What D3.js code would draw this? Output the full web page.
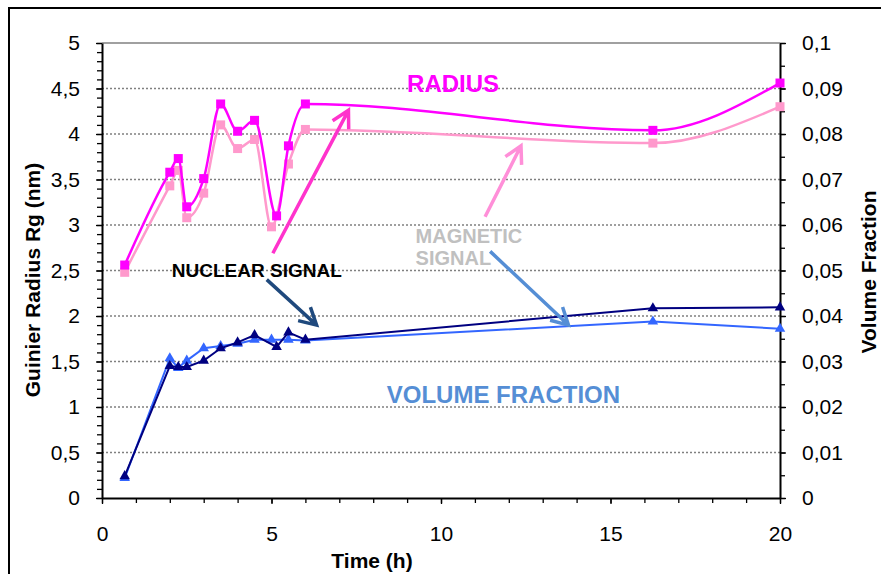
<!DOCTYPE html>
<html><head><meta charset="utf-8">
<script src="https://cdn.jsdelivr.net/npm/d3@7"></script>
<style>body{margin:0;background:#fff} svg{display:block} text{font-family:"Liberation Sans",Arial,sans-serif}</style>
</head><body><svg id="c" width="881" height="574"></svg>
<script>
// ---- data ----
const nucTime   = [0.67, 2, 2.25, 2.5, 3, 3.5, 4, 4.5, 5.15, 5.5, 6, 16.25, 20];
const magTime   = [0.67, 2, 2.25, 2.5, 3, 3.5, 4, 4.5, 5, 5.5, 6, 16.25, 20];
const nucRadius = [2.56, 3.58, 3.73, 3.20, 3.51, 4.33, 4.03, 4.15, 3.10, 3.87, 4.33, 4.04, 4.56];
const magRadius = [2.48, 3.43, 3.60, 3.08, 3.35, 4.10, 3.84, 3.94, 2.98, 3.67, 4.05, 3.90, 4.30];
const nucVF     = [0.0048, 0.0290, 0.0288, 0.0288, 0.0302, 0.0329, 0.0342, 0.0358, 0.0332, 0.0364, 0.0348, 0.0417, 0.0419];
const magVF     = [0.0044, 0.0307, 0.0286, 0.0302, 0.0329, 0.0334, 0.0339, 0.0348, 0.0348, 0.0348, 0.0346, 0.0388, 0.0372];
const xTicks    = [0, 5, 10, 15, 20];
const leftTicks = [0, 0.5, 1, 1.5, 2, 2.5, 3, 3.5, 4, 4.5, 5];
const rightTicks= [0, 0.01, 0.02, 0.03, 0.04, 0.05, 0.06, 0.07, 0.08, 0.09, 0.1];
const xTitle = "Time (h)", yLeftTitle = "Guinier Radius Rg (nm)", yRightTitle = "Volume Fraction";
// annotations [x, y] in data units (left axis scale)
const labels = [
  {text: "RADIUS", x: 9.0, y: 4.46, color: "#FF00FF", size: 24},
  {text: "NUCLEAR SIGNAL", x: 2.06, y: 2.425, color: "#000000", size: 19},
  {text: "MAGNETIC", x: 9.25, y: 2.80, color: "#C0C0C0", size: 20},
  {text: "SIGNAL", x: 9.25, y: 2.56, color: "#C0C0C0", size: 20},
  {text: "VOLUME FRACTION", x: 8.4, y: 1.047, color: "#558ED5", size: 24}
];
const arrows = [
  {x1: 5.04, y1: 2.69, x2: 7.27, y2: 4.26, color: "#FF33CC"},
  {x1: 11.3, y1: 3.09, x2: 12.36, y2: 3.87, color: "#FF8FD8"},
  {x1: 4.86, y1: 2.40, x2: 6.33, y2: 1.90, color: "#1F497D"},
  {x1: 11.45, y1: 2.71, x2: 13.76, y2: 1.90, color: "#558ED5"}
];

// ---- layout ----
const svg = d3.select("#c");
const L = 102, R = 780, T = 43, B = 498;
const x = d3.scaleLinear().domain([0, 20]).range([L, R]);
const yL = d3.scaleLinear().domain([0, 5]).range([B, T]);
const yR = d3.scaleLinear().domain([0, 0.1]).range([B, T]);
const fmt = d => String(+d.toFixed(3)).replace(".", ",");

svg.append("rect").attr("x", 9).attr("y", 8).attr("width", 900).attr("height", 600)
  .attr("fill", "#fff").attr("stroke", "#000").attr("stroke-width", 2);

// gridlines
svg.append("g").selectAll("line").data(leftTicks.filter(d => d > 0 && d < 5)).join("line")
  .attr("x1", L).attr("x2", R).attr("y1", d => yL(d)).attr("y2", d => yL(d))
  .attr("stroke", "#808080").attr("stroke-width", 1.3).attr("stroke-dasharray", "2,2");
svg.append("line").attr("x1", L).attr("x2", R).attr("y1", yL(5)).attr("y2", yL(5))
  .attr("stroke", "#A0A0A0").attr("stroke-width", 2);

// axes
function styleAxis(g) {
  g.select(".domain").attr("stroke", "#000").attr("stroke-width", 2);
  g.selectAll(".tick line").attr("stroke", "#000").attr("stroke-width", 1.3);
  g.selectAll(".tick text").attr("font-size", 21).attr("fill", "#000").attr("font-family", '"Liberation Sans",Arial,sans-serif');
}
// minor ticks
svg.append("g").attr("transform", `translate(${L},0)`)
  .call(d3.axisLeft(yL).tickValues(d3.range(0, 5.001, 0.1)).tickSize(5).tickFormat(""))
  .call(g => g.select(".domain").remove()).call(styleAxis);
svg.append("g").attr("transform", `translate(${R},0)`)
  .call(d3.axisRight(yR).tickValues(d3.range(0, 0.1001, 0.005)).tickSize(5).tickFormat(""))
  .call(g => g.select(".domain").remove()).call(styleAxis);
svg.append("g").attr("transform", `translate(0,${B})`)
  .call(d3.axisBottom(x).tickValues(d3.range(0, 20.01, 1)).tickSize(5).tickFormat(""))
  .call(g => g.select(".domain").remove()).call(styleAxis);

svg.append("g").attr("transform", `translate(${L},0)`)
  .call(d3.axisLeft(yL).tickValues(leftTicks).tickSize(6).tickSizeOuter(0).tickPadding(16).tickFormat(fmt)).call(styleAxis);
svg.append("g").attr("transform", `translate(${R},0)`)
  .call(d3.axisRight(yR).tickValues(rightTicks).tickSize(6).tickSizeOuter(0).tickPadding(16).tickFormat(fmt)).call(styleAxis);
svg.append("g").attr("transform", `translate(0,${B})`)
  .call(d3.axisBottom(x).tickValues(xTicks).tickSize(6).tickSizeOuter(0).tickPadding(22).tickFormat(fmt)).call(styleAxis);

// titles
svg.append("text").attr("x", 372).attr("y", 568).attr("text-anchor", "middle")
  .attr("font-size", 21).attr("font-weight", "bold").text(xTitle);
svg.append("text").attr("transform", "translate(40,280) rotate(-90)").attr("text-anchor", "middle")
  .attr("font-size", 21).attr("font-weight", "bold").text(yLeftTitle);
svg.append("text").attr("transform", "translate(876,272) rotate(-90)").attr("text-anchor", "middle")
  .attr("font-size", 21).attr("font-weight", "bold").text(yRightTitle);

// series
const smooth = d3.line().curve(d3.curveMonotoneX);
const straight = d3.line();
function series(times, vals, yScale, color, curve, marker, width) {
  const pts = times.map((t, i) => [x(t), yScale(vals[i])]);
  svg.append("path").attr("d", curve(pts)).attr("fill", "none").attr("stroke", color).attr("stroke-width", width);
  const g = svg.append("g");
  if (marker === "square") {
    g.selectAll("rect").data(pts).join("rect")
      .attr("x", d => d[0] - 4.5).attr("y", d => d[1] - 4.5).attr("width", 9).attr("height", 9).attr("fill", color);
  } else {
    const tri = d3.symbol().type(d3.symbolTriangle).size(48);
    g.selectAll("path").data(pts).join("path")
      .attr("transform", d => `translate(${d[0]},${d[1]})`).attr("d", tri).attr("fill", color);
  }
}
series(magTime, magRadius, yL, "#FF99CC", smooth, "square", 2.5);
series(nucTime, nucRadius, yL, "#FF00FF", smooth, "square", 2.5);
series(magTime, magVF, yR, "#3366FF", straight, "triangle", 2);
series(nucTime, nucVF, yR, "#000080", straight, "triangle", 2);

// annotations
labels.forEach(l => {
  svg.append("text").attr("x", x(l.x)).attr("y", yL(l.y)).attr("fill", l.color)
    .attr("font-size", l.size).attr("font-weight", "bold").text(l.text);
});
arrows.forEach(a => {
  const X1 = x(a.x1), Y1 = yL(a.y1), X2 = x(a.x2), Y2 = yL(a.y2);
  const ang = Math.atan2(Y2 - Y1, X2 - X1), len = 19, spread = 0.5;
  const b1 = [X2 - len * Math.cos(ang - spread), Y2 - len * Math.sin(ang - spread)];
  const b2 = [X2 - len * Math.cos(ang + spread), Y2 - len * Math.sin(ang + spread)];
  svg.append("path").attr("d", `M${X1},${Y1}L${X2},${Y2}M${b1[0]},${b1[1]}L${X2},${Y2}L${b2[0]},${b2[1]}`)
    .attr("fill", "none").attr("stroke", a.color).attr("stroke-width", 3.5).attr("stroke-linejoin", "miter").attr("stroke-linecap", "butt");
});
</script></body></html>
